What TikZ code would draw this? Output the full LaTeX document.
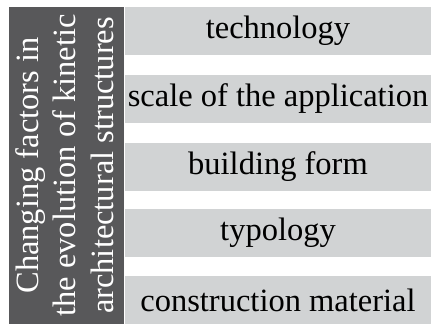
\documentclass[tikz,border=0pt]{standalone}
\usepackage{fontspec}
\setmainfont{Liberation Serif}
\definecolor{darkbox}{HTML}{58585A}
\definecolor{lightbox}{HTML}{D1D3D4}
\tikzset{
factor/.style={fill=lightbox, minimum width=306pt, minimum height=48pt, inner sep=0pt, font=\fontsize{32.5}{36}\selectfont, text=black},
title/.style={fill=darkbox, minimum width=115pt, minimum height=317pt, inner sep=0pt}
}
\begin{document}
\begin{tikzpicture}[x=1pt,y=1pt]
\useasboundingbox (0,0) rectangle (431,325);
\node[title] (changes) at (66.5,159.5) {};
\node[rotate=90, text=white, align=center, font=\fontsize{32.5}{37.5}\selectfont] (changestext) at ([xshift=-2pt]changes.center) {Changing factors in\\the evolution of kinetic\\architectural structures};
\node[factor] (tech) at (278,294) {technology};
\node[factor] (scale) at (278,226) {scale of the application};
\node[factor] (form) at (278,158) {building form};
\node[factor] (type) at (278,92) {typology};
\node[factor] (material) at (278,25) {construction material};
\end{tikzpicture}
\end{document}
